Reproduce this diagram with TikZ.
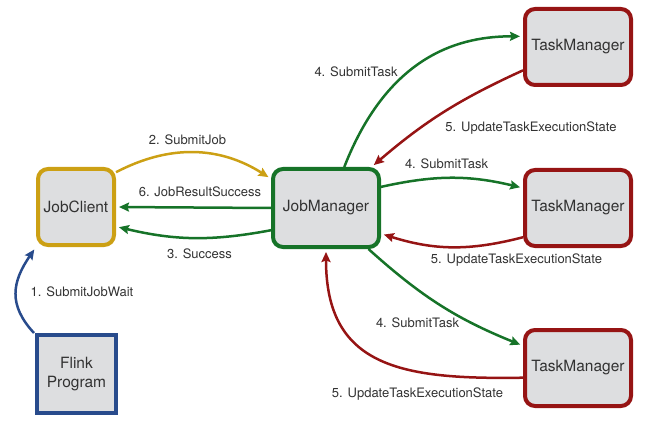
\documentclass[tikz,border=0pt]{standalone}
\usepackage{fontspec}
\setmainfont{TeX Gyre Heros}
\usetikzlibrary{arrows.meta,calc}
\definecolor{cgold}{RGB}{204,160,20}
\definecolor{cgreen}{RGB}{22,115,40}
\definecolor{cred}{RGB}{150,20,20}
\definecolor{cblue}{RGB}{40,75,140}
\definecolor{cfill}{RGB}{221,222,224}
\definecolor{ctext}{RGB}{50,50,50}
\begin{document}
\begin{tikzpicture}[x=1pt,y=1pt,
  boxbase/.style={fill=cfill, line width=4pt, text=ctext, align=center,
    font=\fontsize{15.5}{19}\selectfont, inner sep=0pt},
  rbox/.style={boxbase, rounded corners=10pt},
  lbl/.style={text=ctext, font=\fontsize{13}{15}\selectfont, inner sep=0pt},
  arr/.style={line width=2.5pt, -{Stealth[length=10pt,width=9pt,inset=1.5pt]}, shorten >=3pt}
]
\useasboundingbox (0,0) rectangle (645,-422);
% nodes
\node[rbox, draw=cgold, minimum width=76pt, minimum height=76pt] (jc) at (76,-207) {JobClient};
\node[rbox, draw=cgreen, minimum width=106pt, minimum height=78pt] (jm) at (326,-208) {JobManager};
\node[boxbase, draw=cblue, minimum width=79pt, minimum height=78pt] (fp) at (76.5,-374) {Flink\\Program};
\node[rbox, draw=cred, minimum width=106pt, minimum height=76pt] (tm1) at (578,-47) {TaskManager};
\node[rbox, draw=cred, minimum width=106pt, minimum height=76pt] (tm2) at (578,-208) {TaskManager};
\node[rbox, draw=cred, minimum width=106pt, minimum height=76pt] (tm3) at (578,-368) {TaskManager};
% connectors
\draw[arr, cblue] ($(fp.north west)+(-1,0)$) .. controls (8,-305) and (12,-282) .. (jc.south west);
\draw[arr, cgold] (jc.41) to[bend left=30] (jm.152);
\draw[arr, cgreen] (jm.west) -- (jc.east);
\draw[arr, cgreen] (jm.202) to[bend left=12] (jc.-26);
\draw[arr, cgreen] (jm.66) .. controls +(45,115) and +(-60,0) .. (tm1.169);
\draw[arr, cred] (tm1.203) to[bend right=8] (jm.42);
\draw[arr, cgreen] (jm.21) to[bend left=13] (tm2.160);
\draw[arr, cred] (tm2.208) to[bend left=16] (jm.-25);
\draw[arr, cgreen] (jm.-44) to[bend right=10] (tm3.158);
\draw[arr, cred] (tm3.190) .. controls +(-122,-2) and +(0,-118) .. (jm.south);
% labels
\node[lbl] (l1) at (82,-292) {1. SubmitJobWait};
\node[lbl] (l2) at (187.5,-140) {2. SubmitJob};
\node[lbl] (l6) at (200,-192) {6. JobResultSuccess};
\node[lbl] (l3) at (199.5,-254) {3. Success};
\node[lbl] (l4a) at (356,-72) {4. SubmitTask};
\node[lbl] (l5a) at (531,-128) {5. UpdateTaskExecutionState};
\node[lbl] (l4b) at (446.5,-164) {4. SubmitTask};
\node[lbl] (l5b) at (516.5,-260) {5. UpdateTaskExecutionState};
\node[lbl] (l4c) at (417.5,-323) {4. SubmitTask};
\node[lbl] (l5c) at (417.5,-394) {5. UpdateTaskExecutionState};
\end{tikzpicture}
\end{document}
